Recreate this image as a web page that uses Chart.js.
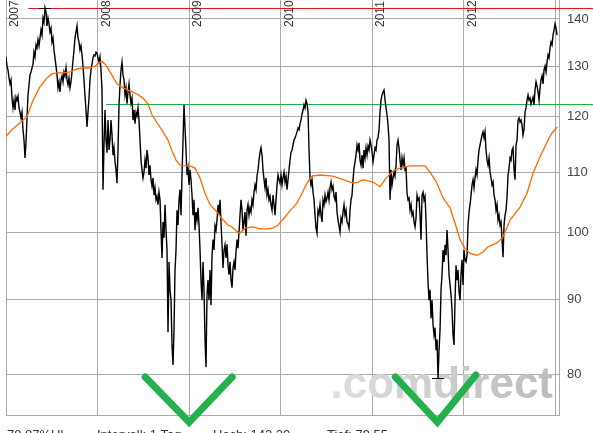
<!DOCTYPE html>
<html>
<head>
<meta charset="utf-8">
<title>Kursverlauf 2007-2012</title>
<script src="https://cdn.jsdelivr.net/npm/chart.js@4.4.1/dist/chart.umd.min.js"></script>
<style>
  html, body { margin: 0; padding: 0; background: #fff; }
  #wrap { width: 593px; height: 433px; overflow: hidden; }
</style>
</head>
<body>
<div id="wrap"><canvas id="chartKurs" width="593" height="433"></canvas></div>
<script>
(function() {
  'use strict';

  // Kurs: one reading roughly every 4 days from the start of 2007
  const priceStart = 2007.0;
  const priceStep = 1 / 91.58;
  const priceValues = [
    131.9, 130.0, 129.2, 127.6, 126.4, 127.2, 123.6, 121.7, 123.2, 121.3,
    123.8, 123.2, 124.0, 121.7, 120.9, 119.8, 120.9, 117.6, 115.7, 112.5,
    115.3, 119.8, 124.2, 126.2, 128.2, 128.8, 129.6, 130.4, 132.9, 131.9,
    134.4, 133.8, 135.5, 134.2, 135.9, 137.6, 136.5, 140.2, 139.3, 142.5,
    141.6, 138.5, 140.2, 138.9, 137.2, 138.0, 135.0, 135.9, 133.3, 131.7,
    130.0, 128.2, 125.6, 126.8, 124.8, 127.2, 128.0, 126.8, 128.8, 128.0,
    129.6, 127.2, 126.2, 127.6, 125.6, 126.8, 128.8, 131.2, 133.3, 135.9,
    137.2, 138.5, 135.9, 135.0, 133.3, 134.2, 132.3, 130.0, 127.2, 124.0,
    121.3, 118.1, 120.9, 123.6, 127.2, 129.2, 130.4, 131.7, 132.3, 132.1,
    132.9, 132.7, 131.7, 130.8, 131.9, 129.2, 125.2, 107.0, 114.8, 121.3,
    115.7, 113.4, 119.4, 113.9, 115.7, 119.4, 116.6, 113.0, 114.3, 111.8,
    110.4, 108.1, 113.9, 122.3, 126.2, 129.2, 130.8, 128.2, 127.2, 124.2,
    125.6, 122.5, 124.8, 126.4, 124.2, 122.6, 123.6, 119.4, 121.3, 118.7,
    120.9, 120.2, 121.7, 119.4, 115.7, 112.1, 110.4, 109.0, 110.0, 112.1,
    110.7, 113.9, 112.5, 109.5, 111.2, 108.7, 107.6, 109.0, 106.1, 107.3,
    105.3, 105.9, 104.5, 106.6, 105.3, 100.4, 96.1, 101.7, 99.2, 104.5,
    100.4, 97.3, 85.5, 95.5, 91.4, 89.9, 83.8, 81.2, 85.8, 94.3,
    97.3, 103.6, 101.2, 105.3, 107.0, 102.8, 109.5, 115.7, 122.3, 117.9,
    113.9, 109.5, 110.7, 107.8, 110.4, 108.7, 106.1, 102.8, 105.3, 100.4,
    103.3, 102.0, 104.0, 101.2, 97.3, 92.8, 89.9, 95.5, 91.4, 84.5,
    80.9, 90.7, 92.8, 89.9, 94.3, 89.2, 96.5, 98.9, 97.3, 101.1,
    100.4, 102.0, 104.5, 102.8, 105.3, 101.7, 98.1, 94.6, 97.3, 98.1,
    96.1, 98.2, 95.0, 93.6, 95.5, 92.8, 91.7, 94.6, 95.5, 94.3,
    97.0, 98.9, 97.6, 100.1, 102.8, 105.3, 103.6, 100.4, 101.7, 103.3,
    99.5, 103.6, 104.5, 102.8, 104.0, 103.3, 105.3, 104.5, 106.6, 107.8,
    107.0, 109.3, 110.4, 112.1, 113.5, 114.3, 113.0, 110.4, 108.7, 107.3,
    109.0, 106.1, 107.0, 105.3, 105.9, 104.5, 103.6, 106.1, 104.5, 102.8,
    105.3, 107.8, 109.5, 108.7, 108.1, 109.5, 107.8, 109.0, 110.0, 108.3,
    109.3, 107.0, 108.7, 110.4, 112.1, 113.5, 113.9, 114.8, 115.7, 116.1,
    116.6, 117.2, 117.9, 117.6, 118.7, 119.4, 120.5, 121.3, 122.3, 121.7,
    123.2, 122.5, 120.9, 113.9, 109.0, 107.8, 108.7, 106.6, 105.3, 102.8,
    100.7, 99.9, 103.6, 103.0, 104.5, 102.8, 101.7, 105.3, 104.5, 106.1,
    105.0, 105.6, 106.6, 105.3, 107.3, 108.3, 107.0, 107.6, 105.9, 105.3,
    106.6, 103.3, 102.0, 101.1, 100.1, 102.3, 101.7, 103.3, 104.5, 102.8,
    103.6, 101.7, 101.4, 100.7, 103.6, 105.3, 106.1, 108.7, 110.7, 111.8,
    113.0, 114.8, 113.9, 115.2, 112.1, 111.2, 113.0, 110.7, 113.9, 112.5,
    114.3, 113.0, 114.6, 113.9, 115.7, 114.8, 113.5, 111.8, 113.0, 114.3,
    113.9, 115.7, 116.1, 117.6, 120.9, 123.2, 124.2, 124.8, 125.2, 123.2,
    121.7, 120.4, 118.5, 115.7, 105.3, 110.4, 107.8, 109.0, 110.0, 109.3,
    111.2, 114.8, 115.7, 114.3, 112.1, 110.4, 112.5, 111.2, 112.5, 110.4,
    110.7, 106.4, 105.3, 105.6, 103.6, 104.5, 102.8, 103.3, 101.7, 100.9,
    102.3, 106.1, 105.3, 105.6, 102.8, 98.9, 106.1, 106.6, 105.3, 105.9,
    102.0, 96.5, 92.5, 89.9, 91.4, 87.4, 89.9, 86.5, 85.1, 86.1,
    83.1, 84.5, 79.5, 83.1, 85.8, 91.4, 93.6, 97.3, 95.5, 98.1,
    96.5, 100.4, 97.3, 93.6, 92.1, 90.7, 88.5, 85.1, 83.8, 89.9,
    95.0, 92.8, 94.3, 91.1, 89.9, 93.6, 95.8, 92.1, 97.3, 95.8,
    95.5, 96.5, 101.2, 103.3, 104.5, 106.1, 107.8, 108.7, 107.3, 109.0,
    110.4, 109.5, 112.1, 113.9, 114.8, 115.7, 116.6, 117.2, 116.1, 117.2,
    113.9, 112.1, 111.2, 112.5, 110.0, 109.0, 107.8, 108.3, 106.1, 105.3,
    103.6, 104.5, 102.0, 102.8, 101.2, 101.7, 98.9, 96.2, 101.2, 102.8,
    103.6, 105.8, 109.5, 110.7, 112.5, 112.1, 113.9, 114.3, 110.4, 108.7,
    114.8, 115.7, 119.4, 119.8, 119.0, 119.4, 118.5, 116.6, 117.6, 120.9,
    121.7, 123.2, 124.2, 123.2, 123.6, 122.5, 123.2, 123.8, 122.3, 125.2,
    126.8, 126.0, 124.8, 123.2, 125.6, 127.2, 128.0, 126.4, 129.2, 130.0,
    128.8, 130.8, 132.3, 131.7, 133.8, 135.0, 134.4, 136.5, 137.6, 138.9,
    138.0, 136.5
  ];

  // gleitender Durchschnitt (orange)
  const maYears = [
    2007.000, 2007.066, 2007.153, 2007.229, 2007.295, 2007.371, 2007.448, 2007.502,
    2007.557, 2007.622, 2007.699, 2007.775, 2007.841, 2007.917, 2007.972, 2008.026,
    2008.048, 2008.092, 2008.136, 2008.212, 2008.278, 2008.354, 2008.430, 2008.496,
    2008.551, 2008.594, 2008.649, 2008.715, 2008.769, 2008.813, 2008.857, 2008.900,
    2008.955, 2009.009, 2009.064, 2009.118, 2009.173, 2009.228, 2009.304, 2009.370,
    2009.424, 2009.468, 2009.511, 2009.555, 2009.610, 2009.697, 2009.773, 2009.850,
    2009.915, 2009.970, 2010.047, 2010.101, 2010.178, 2010.232, 2010.287, 2010.341,
    2010.429, 2010.571, 2010.680, 2010.789, 2010.844, 2010.898, 2011.007, 2011.084,
    2011.138, 2011.193, 2011.248, 2011.302, 2011.411, 2011.575, 2011.630, 2011.706,
    2011.772, 2011.848, 2011.903, 2011.958, 2012.012, 2012.067, 2012.143, 2012.209,
    2012.263, 2012.361, 2012.427, 2012.503, 2012.613, 2012.689, 2012.755, 2012.831,
    2012.919, 2012.962, 2013.017
  ];
  const maValues = [
    116.4, 117.6, 118.9, 120.0, 123.2, 125.8, 127.6, 128.4,
    128.6, 128.6, 128.8, 129.4, 129.6, 129.6, 130.0, 130.8,
    131.0, 130.2, 128.8, 126.4, 125.6, 125.0, 124.4, 123.6,
    122.5, 120.4, 118.9, 117.2, 115.7, 113.7, 112.1, 111.2,
    111.1, 111.1, 110.7, 109.0, 106.4, 104.5, 103.3, 102.0,
    101.2, 100.9, 100.3, 99.9, 100.7, 100.9, 100.6, 100.6,
    100.7, 101.2, 102.5, 103.5, 104.8, 106.4, 108.1, 109.3,
    109.5, 109.3, 108.7, 108.1, 108.3, 108.7, 108.3, 107.5,
    108.7, 109.7, 110.4, 110.7, 111.1, 111.1, 110.0, 108.1,
    105.6, 104.0, 101.5, 98.9, 97.5, 96.8, 96.5, 97.0,
    97.8, 98.4, 99.3, 102.0, 104.1, 106.4, 109.8, 112.7,
    115.7, 117.0, 118.1
  ];

  const yearTicks = [2007, 2008, 2009, 2010, 2011, 2012, 2013];
  const yearLabels = ['2007', '2008', '2009', '2010', '2011', '2012'];
  const valueTicks = [80, 90, 100, 110, 120, 130, 140];

  // horizontal marker lines: [level, first year]
  const redLine = [142.5, 2007.244];
  const greenLine = [122.5, 2008.092];

  // the two green "V" marks, as [year, value] points
  const vMarks = [
    [[2008.52, 79.67], [2009.00, 74.2], [2009.47, 79.67]],
    [[2011.25, 79.67], [2011.71, 74.2], [2012.13, 79.92]]
  ];

  const infoTexts = ['78,87%Ul', 'Intervall: 1 Tag', 'Hoch: 142,20', 'Tief: 79,55'];
  const infoX = [7, 97, 213, 327];

  const FONT = '"Liberation Sans", Arial, sans-serif';
  const GRID = '#aaaaaa';

  const overlay = {
    id: 'overlay',
    beforeDatasetsDraw(chart) {
      const ctx = chart.ctx;
      const area = chart.chartArea;
      const x = chart.scales.x;
      const y = chart.scales.y;

      // watermark
      ctx.save();
      ctx.font = 'bold 44px ' + FONT;
      ctx.textAlign = 'right';
      ctx.textBaseline = 'alphabetic';
      const right = area.right - 6;
      const g = ctx.createLinearGradient(right - 212, 0, right, 0);
      g.addColorStop(0, '#dddddd');
      g.addColorStop(1, '#bcbcbc');
      ctx.fillStyle = g;
      ctx.fillText('.comdirect', right, area.bottom - 17);
      ctx.restore();

      // red and green levels, running to the right edge of the picture
      ctx.save();
      ctx.lineWidth = 1;
      [[redLine, '#e8141b'], [greenLine, '#1fae45']].forEach(([line, col]) => {
        const py = Math.round(y.getPixelForValue(line[0])) + 0.5;
        ctx.strokeStyle = col;
        ctx.beginPath();
        ctx.moveTo(x.getPixelForValue(line[1]), py);
        ctx.lineTo(chart.width, py);
        ctx.stroke();
      });
      ctx.restore();
    },
    afterDatasetsDraw(chart) {
      const ctx = chart.ctx;
      const area = chart.chartArea;
      const x = chart.scales.x;
      const y = chart.scales.y;

      // Hoch / Tief markers
      let hi = 0, lo = 0;
      priceValues.forEach((v, i) => {
        if (v > priceValues[hi]) hi = i;
        if (v < priceValues[lo]) lo = i;
      });
      ctx.save();
      ctx.strokeStyle = '#000';
      ctx.lineWidth = 1;
      ctx.beginPath();
      [hi, lo].forEach(i => {
        const px = x.getPixelForValue(priceStart + i * priceStep);
        const py = Math.round(y.getPixelForValue(priceValues[i])) + 0.5;
        ctx.moveTo(px - 6, py);
        ctx.lineTo(px + 6, py);
      });
      ctx.stroke();
      ctx.restore();

      // year labels, rotated, just right of each year line
      ctx.save();
      ctx.font = '12px ' + FONT;
      ctx.fillStyle = '#333';
      ctx.textAlign = 'left';
      ctx.textBaseline = 'alphabetic';
      yearLabels.forEach((txt, i) => {
        const px = Math.round(x.getPixelForValue(yearTicks[i]));
        ctx.save();
        ctx.translate(px + 12, area.top + 27);
        ctx.rotate(-Math.PI / 2);
        ctx.fillText(txt, 0, 0);
        ctx.restore();
      });
      ctx.restore();

      // green V marks
      ctx.save();
      ctx.strokeStyle = '#22b14c';
      ctx.lineWidth = 7;
      ctx.lineCap = 'round';
      ctx.lineJoin = 'miter';
      vMarks.forEach(pts => {
        ctx.beginPath();
        pts.forEach((p, i) => {
          const px = x.getPixelForValue(p[0]);
          const py = y.getPixelForValue(p[1]);
          if (i === 0) ctx.moveTo(px, py); else ctx.lineTo(px, py);
        });
        ctx.stroke();
      });
      ctx.restore();

      // info line under the chart (cut by the picture edge)
      ctx.save();
      ctx.font = '13px ' + FONT;
      ctx.fillStyle = '#333';
      ctx.textAlign = 'left';
      ctx.textBaseline = 'alphabetic';
      infoTexts.forEach((t, i) => ctx.fillText(t, infoX[i], area.bottom + 24));
      ctx.restore();
    }
  };

  const ctx = document.getElementById('chartKurs').getContext('2d');
  new Chart(ctx, {
    type: 'line',
    data: {
      datasets: [{
        label: 'GD',
        data: maYears.map((yr, i) => ({ x: yr, y: maValues[i] })),
        borderColor: '#ff6a00',
        borderWidth: 1.3,
        pointRadius: 0,
        tension: 0,
        order: 1
      }, {
        label: 'Kurs',
        data: priceValues.map((v, i) => ({ x: priceStart + i * priceStep, y: v })),
        borderColor: '#000000',
        borderWidth: 1.4,
        pointRadius: 0,
        tension: 0,
        order: 2
      }]
    },
    options: {
      responsive: false,
      animation: false,
      events: [],
      layout: { padding: { left: 6, top: 0, right: 0, bottom: 0 } },
      plugins: {
        legend: { display: false },
        tooltip: { enabled: false }
      },
      scales: {
        x: {
          type: 'linear',
          min: 2007,
          max: 2013.038,
          afterBuildTicks: s => { s.ticks = yearTicks.map(v => ({ value: v })); },
          ticks: { display: false },
          grid: { color: GRID, drawTicks: false },
          border: { color: GRID },
          afterFit: s => { s.height = 18; s.paddingLeft = 0; s.paddingRight = 0; }
        },
        y: {
          type: 'logarithmic',
          position: 'right',
          min: 75.04,
          max: 144.25,
          afterBuildTicks: s => { s.ticks = valueTicks.map(v => ({ value: v })); },
          ticks: {
            autoSkip: false,
            padding: 8,
            color: '#444',
            font: { family: FONT, size: 13 },
            callback: v => String(v)
          },
          grid: { color: GRID, drawTicks: false },
          border: { color: GRID },
          afterFit: s => { s.width = 34; s.paddingTop = 0; s.paddingBottom = 0; }
        }
      }
    },
    plugins: [overlay]
  });
})();
</script>
</body>
</html>
